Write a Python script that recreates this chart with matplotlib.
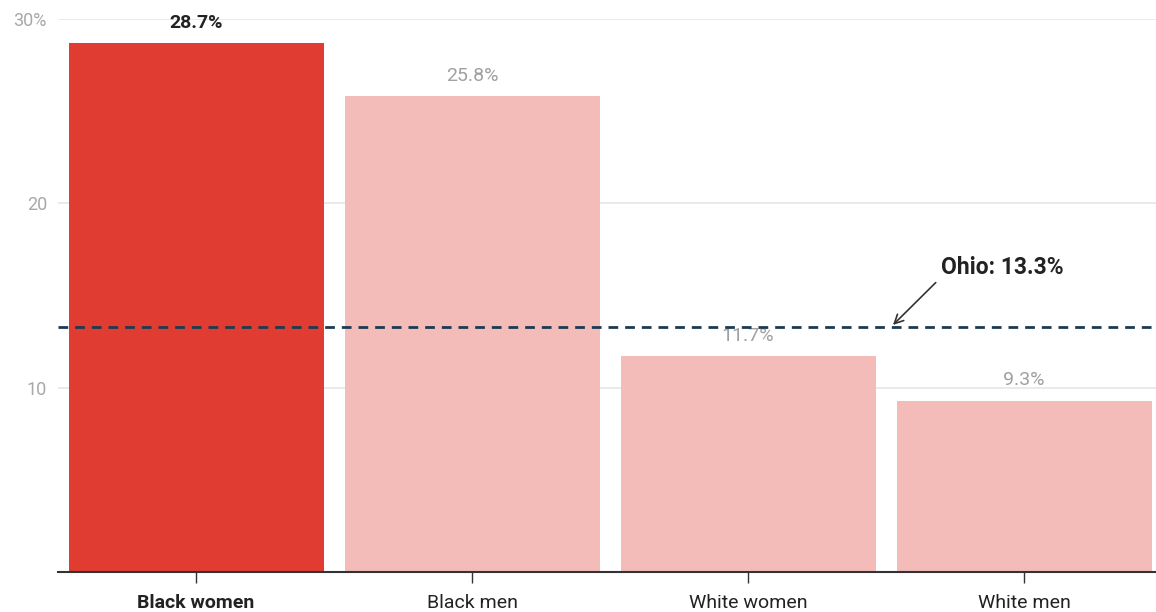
import matplotlib.pyplot as plt
import numpy as np

plt.rcParams['font.family'] = ['Roboto', 'DejaVu Sans']

groups = ["Black women", "Black men", "White women", "White men"]
rates = [28.7, 25.8, 11.7, 9.3]
ohio_rate = 13.3
y_ticks = [10, 20, 30]
y_tick_labels = ["10", "20", "30%"]

red = "#e03c31"
pink = "#f4bcb8"
navy = "#1d3a52"

fig = plt.figure(figsize=(11.56, 6.12), dpi=100)
ax = fig.add_axes([0.0502, 0.0654, 0.9498, 0.9036])

x = np.arange(len(groups))
colors = [red] + [pink] * (len(groups) - 1)
ax.bar(x, rates, width=0.924, color=colors, zorder=2)

# value labels above bars
for i, v in enumerate(rates):
    if i == 0:
        ax.text(i, v + 0.6, f"{v}%", ha="center", va="bottom", fontsize=14,
                fontweight="bold", color="#222222", zorder=3)
    else:
        ax.text(i, v + 0.6, f"{v}%", ha="center", va="bottom", fontsize=14,
                color="#a0a0a0", zorder=3)

# state average line
ax.axhline(ohio_rate, color=navy, linestyle=(0, (3.5, 2.5)), linewidth=2, zorder=4)
ax.text(2.7, 16.5, "Ohio: 13.3%", fontsize=16.5, fontweight="bold",
        color="#222222", va="center", ha="left", zorder=5)
ax.annotate("", xy=(2.525, ohio_rate + 0.1), xytext=(2.68, 15.7),
            arrowprops=dict(arrowstyle="->", color="#333333", lw=1.2,
                            shrinkA=0, shrinkB=0, mutation_scale=16), zorder=5)

ax.set_xlim(-0.5, 3.478)
ax.set_ylim(0, 30)
ax.set_yticks(y_ticks)
ax.set_yticklabels(y_tick_labels, color="#a8a8a8", fontsize=13)
ax.yaxis.grid(True, color="#e6e6e6", linewidth=1.2, zorder=0)
ax.set_axisbelow(True)
ax.tick_params(axis="y", length=0, pad=8)

ax.set_xticks(x)
ax.set_xticklabels(groups, fontsize=14, color="#222222")
ax.get_xticklabels()[0].set_fontweight("bold")
ax.tick_params(axis="x", length=8, width=1, color="#333333", pad=8)

for side in ["top", "right", "left"]:
    ax.spines[side].set_visible(False)
ax.spines["bottom"].set_color("#333333")
ax.spines["bottom"].set_linewidth(1.5)

fig.savefig("out.png", dpi=100)
